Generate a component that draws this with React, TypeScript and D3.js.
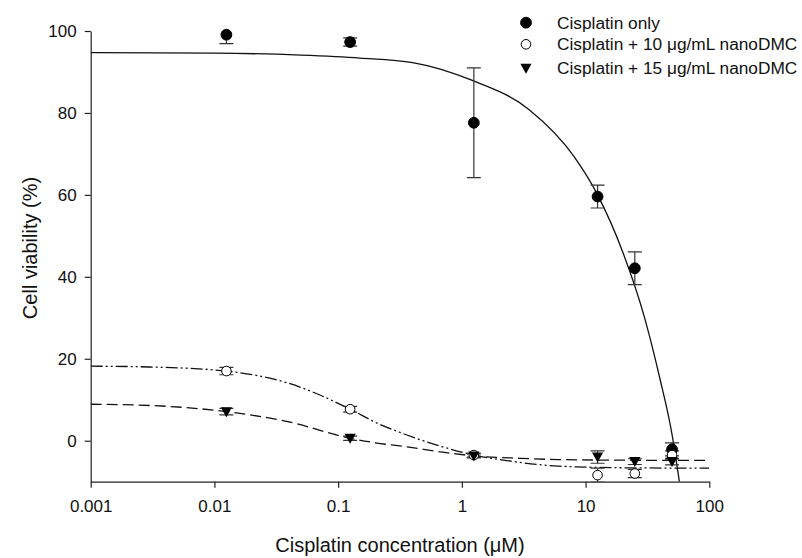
import React, { useEffect, useRef } from 'react'
import * as d3 from 'd3'

// measured points (uM), mean and error bar half-length (%)
const concentrations = [0.0125, 0.125, 1.25, 12.5, 25, 50]
const cisOnly = [99.1, 97.3, 77.6, 59.6, 42.1, -2.1]
const cisOnlyErr = [2.2, 1.0, 13.4, 2.8, 4.0, 1.6]
const cis10 = [17.0, 7.7, -3.5, -8.4, -8.0, -3.5]
const cis10Err = [0.9, 0.7, 0.5, 1.7, 1.0, 1.0]
const cis15 = [7.1, 0.6, -3.7, -4.0, -5.1, -5.1]
const cis15Err = [0.8, 0.5, 0.5, 1.5, 0.7, 0.8]

// fitted curves
const fitOnlyX = [0.001, 0.01, 0.05, 0.15, 0.4, 1.2, 3.5, 8, 12.5, 20, 30, 40, 50, 57.3]
const fitOnlyY = [94.7, 94.6, 94.1, 93.4, 92.3, 88, 80.8, 69.5, 60, 46, 30, 15, 1.5, -10]
const fit10X = [0.001, 0.003, 0.0125, 0.04, 0.125, 0.2, 0.36, 0.7, 1.25, 2.5, 6, 20, 100]
const fit10Y = [18.2, 18.0, 17.0, 14.0, 7.7, 4.5, 1.4, -1.5, -3.5, -5.0, -6.2, -6.6, -6.7]
const fit15X = [0.001, 0.003, 0.0125, 0.04, 0.125, 0.2, 0.36, 0.7, 1.25, 3, 6, 20, 100]
const fit15Y = [8.9, 8.6, 7.1, 4.6, 0.6, -0.5, -1.5, -2.8, -3.7, -4.3, -4.6, -4.75, -4.8]

const xTicks = [0.001, 0.01, 0.1, 1, 10, 100]
const xTickLabels = ['0.001', '0.01', '0.1', '1', '10', '100']
const yTicks = [0, 20, 40, 60, 80, 100]

const legendLabels = [
  'Cisplatin only',
  'Cisplatin + 10 \u03bcg/mL nanoDMC',
  'Cisplatin + 15 \u03bcg/mL nanoDMC',
]

const FONT = '"Liberation Sans", Arial, Helvetica, sans-serif'

export default function App() {
  const node = useRef<SVGSVGElement>(null)

  useEffect(() => {
    const svg = d3.select(node.current)
    svg.selectAll('*').remove()

    const width = 802, height = 558
    const left = 90.7, right = 709.3, top = 31, bottom = 481.7

    const x = d3.scaleLog().domain([0.001, 100]).range([left, right])
    const y = d3.scaleLinear().domain([-10, 100]).range([bottom, top])

    svg.attr('width', width).attr('height', height)

    svg.append('defs').append('clipPath').attr('id', 'plot')
      .append('rect')
      .attr('x', left).attr('y', top)
      .attr('width', right - left).attr('height', bottom - top)

    // axes
    const xAxis = svg.append('g')
      .attr('transform', `translate(0,${bottom})`)
      .call(d3.axisBottom(x).tickValues(xTicks)
        .tickFormat((d, i) => xTickLabels[i])
        .tickSize(6).tickSizeOuter(0).tickPadding(12))
    const yAxis = svg.append('g')
      .attr('transform', `translate(${left},0)`)
      .call(d3.axisLeft(y).tickValues(yTicks)
        .tickSize(6).tickSizeOuter(0).tickPadding(8))
    ;[xAxis, yAxis].forEach(g => {
      g.selectAll('path, line').attr('stroke', '#222').attr('stroke-width', 1.2)
      g.selectAll('text').attr('fill', '#111')
        .style('font-family', FONT).style('font-size', '17px')
    })

    svg.append('text')
      .text('Cisplatin concentration (\u03bcM)')
      .attr('x', (left + right) / 2).attr('y', 552)
      .attr('text-anchor', 'middle')
      .style('font-family', FONT).style('font-size', '20px').style('fill', '#111')

    svg.append('text')
      .text('Cell viability (%)')
      .attr('transform', `translate(37,248) rotate(-90)`)
      .attr('text-anchor', 'middle')
      .style('font-family', FONT).style('font-size', '20px').style('fill', '#111')

    // fitted lines
    const line = d3.line<[number, number]>()
      .x(d => x(d[0]))
      .y(d => y(d[1]))
      .curve(d3.curveMonotoneX)

    const curves = [
      { xs: fitOnlyX, ys: fitOnlyY, dash: null },
      { xs: fit10X, ys: fit10Y, dash: '12 3 2 3 2 3' },
      { xs: fit15X, ys: fit15Y, dash: '11 5' },
    ]
    const plot = svg.append('g').attr('clip-path', 'url(#plot)')
    curves.forEach(c => {
      plot.append('path')
        .attr('d', line(c.xs.map((v, i) => [v, c.ys[i]] as [number, number])))
        .style('fill', 'none')
        .style('stroke', '#111')
        .style('stroke-width', 1.3)
        .attr('stroke-dasharray', c.dash)
    })

    // error bars (clipped to the axis range) then markers
    const series = [
      { vals: cisOnly, errs: cisOnlyErr, kind: 'filled' },
      { vals: cis10, errs: cis10Err, kind: 'open' },
      { vals: cis15, errs: cis15Err, kind: 'tri' },
    ]
    const cap = 7
    series.forEach(s => {
      const g = svg.append('g').attr('clip-path', 'url(#plot)')
      concentrations.forEach((c, i) => {
        const cx = x(c)
        const y1 = y(s.vals[i] + s.errs[i]), y2 = y(s.vals[i] - s.errs[i])
        g.append('line').attr('x1', cx).attr('x2', cx).attr('y1', y1).attr('y2', y2)
        g.append('line').attr('x1', cx - cap).attr('x2', cx + cap).attr('y1', y1).attr('y2', y1)
        g.append('line').attr('x1', cx - cap).attr('x2', cx + cap).attr('y1', y2).attr('y2', y2)
      })
      g.selectAll('line').style('stroke', '#333').style('stroke-width', 1.2)
    })

    function marker(g: any, kind: string, cx: number, cy: number) {
      if (kind === 'tri') {
        g.append('path')
          .attr('d', `M${cx - 5.6},${cy - 4.5}L${cx + 5.6},${cy - 4.5}L${cx},${cy + 5.5}Z`)
          .style('fill', '#000')
      } else {
        g.append('circle')
          .attr('cx', cx).attr('cy', cy)
          .attr('r', kind === 'filled' ? 5.4 : 4.8)
          .style('fill', kind === 'filled' ? '#000' : '#fff')
          .style('stroke', '#000')
          .style('stroke-width', 1)
      }
    }

    series.forEach(s => {
      const g = svg.append('g')
      concentrations.forEach((c, i) => marker(g, s.kind, x(c), y(s.vals[i])))
    })

    // legend
    const legendRows = [22.7, 44.3, 68.3]
    const lg = svg.append('g')
    series.forEach((s, i) => {
      marker(lg, s.kind, 526, legendRows[i])
      lg.append('text')
        .text(legendLabels[i])
        .attr('x', 557).attr('y', legendRows[i] + 6)
        .style('font-family', FONT).style('font-size', '17.3px').style('fill', '#111')
    })
  }, [])

  return <svg ref={node} style={{ position: 'absolute', left: 0, top: 0, background: '#fff' }}></svg>
}
